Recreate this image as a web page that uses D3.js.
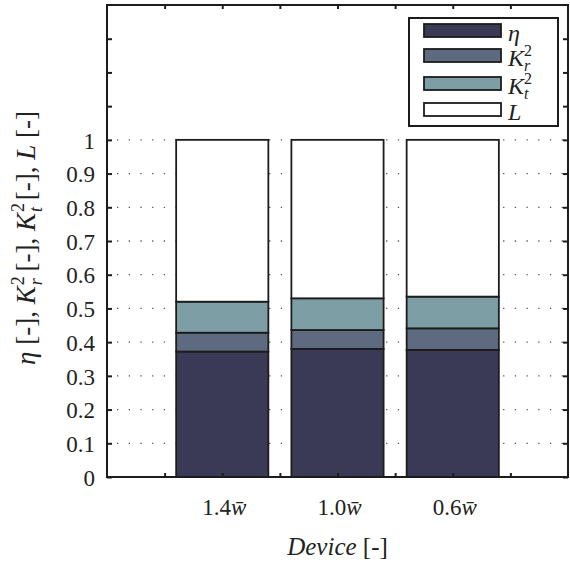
<!DOCTYPE html>
<html>
<head>
<meta charset="utf-8">
<script src="https://cdn.jsdelivr.net/npm/d3@7"></script>
<style>
  body { margin: 0; background: #fff; }
  text { font-family: "Liberation Serif", "DejaVu Serif", serif; fill: #222; }
</style>
</head>
<body>
<script>
const width = 570;
const height = 566;
const margin = {top: 5, right: 1, bottom: 89, left: 107};

// values
const devices = ["1.4", "1.0", "0.6"];
const devicePos = [2, 4, 6];
const eta = [0.372, 0.380, 0.377];
const kr2 = [0.056, 0.056, 0.064];
const kt2 = [0.092, 0.094, 0.094];
const loss = [0.480, 0.470, 0.465];
const seriesKeys = ["eta", "kr2", "kt2", "loss"];
const seriesColors = ["#3a3a57", "#5e6a7f", "#7e9ea6", "#ffffff"];
const yTicks = d3.range(0, 14).map(d => d / 10);
const xTicks = [1, 2, 3, 4, 5, 6, 7];

const table = devices.map((d, i) => ({device: d, x: devicePos[i], eta: eta[i], kr2: kr2[i], kt2: kt2[i], loss: loss[i]}));
const stacked = d3.stack().keys(seriesKeys)(table);

const x = d3.scaleLinear().domain([0, 8]).range([margin.left, width - margin.right - 1]);
const y = d3.scaleLinear().domain([0, 1.4]).range([height - margin.bottom, margin.top]);
const barW = x(1.6) - x(0);

const svg = d3.select("body").append("svg")
    .attr("width", width)
    .attr("height", height);

// dotted grid, 0.1 .. 1
svg.append("g")
  .selectAll("line")
  .data(yTicks.filter(d => d > 0.05 && d < 1.05))
  .enter().append("line")
    .attr("x1", x(0)).attr("x2", x(8))
    .attr("y1", d => y(d)).attr("y2", d => y(d))
    .attr("stroke", "#555")
    .attr("stroke-width", 1.3)
    .attr("stroke-dasharray", "1.3,10.4")
    .attr("stroke-dashoffset", -10);

// bars
svg.append("g")
  .selectAll("g")
  .data(stacked)
  .enter().append("g")
    .attr("fill", (d, i) => seriesColors[i])
  .selectAll("rect")
  .data(d => d)
  .enter().append("rect")
    .attr("x", d => x(d.data.x) - barW / 2)
    .attr("width", barW)
    .attr("y", d => y(d[1]))
    .attr("height", d => y(d[0]) - y(d[1]))
    .attr("stroke", "#1c1c1c")
    .attr("stroke-width", 1.8);

// axes with inward ticks
const yAxisL = d3.axisLeft(y).tickValues(yTicks).tickSize(-5).tickPadding(12)
    .tickFormat(d => d <= 1.001 ? (d === 0 ? "0" : d === 1 ? "1" : d3.format(".1f")(d)) : "");
const yAxisR = d3.axisRight(y).tickValues(yTicks).tickSize(-5).tickFormat("");
const xAxisB = d3.axisBottom(x).tickValues(xTicks).tickSize(-4).tickFormat("");
const xAxisT = d3.axisTop(x).tickValues(xTicks).tickSize(-4).tickFormat("");

function styleAxis(g) {
  g.select(".domain").remove();
  g.selectAll(".tick line").attr("stroke", "#1c1c1c").attr("stroke-width", 2);
  g.selectAll(".tick text").style("font-size", "23px").attr("fill", "#222");
}

svg.append("g").attr("transform", `translate(${x(0)},0)`).call(yAxisL).call(styleAxis)
  .selectAll(".tick text").attr("dy", "0.36em");
svg.append("g").attr("transform", `translate(${x(8)},0)`).call(yAxisR).call(styleAxis);
svg.append("g").attr("transform", `translate(0,${y(0)})`).call(xAxisB).call(styleAxis);
svg.append("g").attr("transform", `translate(0,${y(1.4)})`).call(xAxisT).call(styleAxis);

// frame
svg.append("rect")
    .attr("x", x(0)).attr("y", y(1.4))
    .attr("width", x(8) - x(0)).attr("height", y(0) - y(1.4))
    .attr("fill", "none")
    .attr("stroke", "#1c1c1c")
    .attr("stroke-width", 2);

// x tick labels
const xl = svg.append("g").selectAll("text")
  .data(table)
  .enter().append("text")
    .attr("x", d => x(d.x) + 2)
    .attr("y", 515)
    .attr("text-anchor", "middle")
    .style("font-size", "23px");
xl.append("tspan").text(d => d.device);
xl.append("tspan").style("font-style", "italic").text("w\u0304");

// x axis title
const xt = svg.append("text")
    .attr("x", (x(0) + x(8)) / 2)
    .attr("y", 555)
    .attr("text-anchor", "middle")
    .style("font-size", "25px");
xt.append("tspan").style("font-style", "italic").text("Device");
xt.append("tspan").text(" [-]");

// y axis title
const yt = svg.append("text")
    .attr("transform", `translate(35,${(y(0) + y(1.4)) / 2 - 3}) rotate(-90)`)
    .attr("text-anchor", "middle")
    .style("font-size", "27px");
yt.append("tspan").style("font-style", "italic").text("η");
yt.append("tspan").text(" [-], ");
yt.append("tspan").style("font-style", "italic").text("K");
yt.append("tspan").attr("dy", -11).attr("dx", 1).style("font-size", "18px").text("2");
yt.append("tspan").attr("dy", 18).attr("dx", -9).style("font-size", "18px").style("font-style", "italic").text("r");
yt.append("tspan").attr("dy", -7).text(" [-], ");
yt.append("tspan").style("font-style", "italic").text("K");
yt.append("tspan").attr("dy", -11).attr("dx", 1).style("font-size", "18px").text("2");
yt.append("tspan").attr("dy", 18).attr("dx", -9).style("font-size", "18px").style("font-style", "italic").text("t");
yt.append("tspan").attr("dy", -7).text(" [-], ");
yt.append("tspan").style("font-style", "italic").text("L");
yt.append("tspan").text(" [-]");

// legend
const legend = svg.append("g").attr("transform", "translate(409,18)");
legend.append("rect")
    .attr("width", 149).attr("height", 108)
    .attr("fill", "#fff")
    .attr("stroke", "#1c1c1c")
    .attr("stroke-width", 2);
const legendRows = [
  {color: seriesColors[0], main: "η", sub: null, y: 6},
  {color: seriesColors[1], main: "K", sub: "r", y: 31},
  {color: seriesColors[2], main: "K", sub: "t", y: 59},
  {color: seriesColors[3], main: "L", sub: null, y: 85}
];
const items = legend.selectAll("g.item")
  .data(legendRows)
  .enter().append("g")
    .attr("class", "item")
    .attr("transform", d => `translate(0,${d.y})`);
items.append("rect")
    .attr("x", 15).attr("y", 0).attr("width", 77).attr("height", 13)
    .attr("fill", d => d.color)
    .attr("stroke", "#1c1c1c")
    .attr("stroke-width", 1.8);
const lt = items.append("text")
    .attr("x", 99).attr("y", 17)
    .style("font-size", "24px");
lt.append("tspan").style("font-style", "italic").text(d => d.main);
lt.filter(d => d.sub).append("tspan").attr("dy", -10).attr("dx", 0).style("font-size", "16px").text("2");
lt.filter(d => d.sub).append("tspan").attr("dy", 15).attr("dx", -8).style("font-size", "16px").style("font-style", "italic").text(d => d.sub);
</script>
</body>
</html>
